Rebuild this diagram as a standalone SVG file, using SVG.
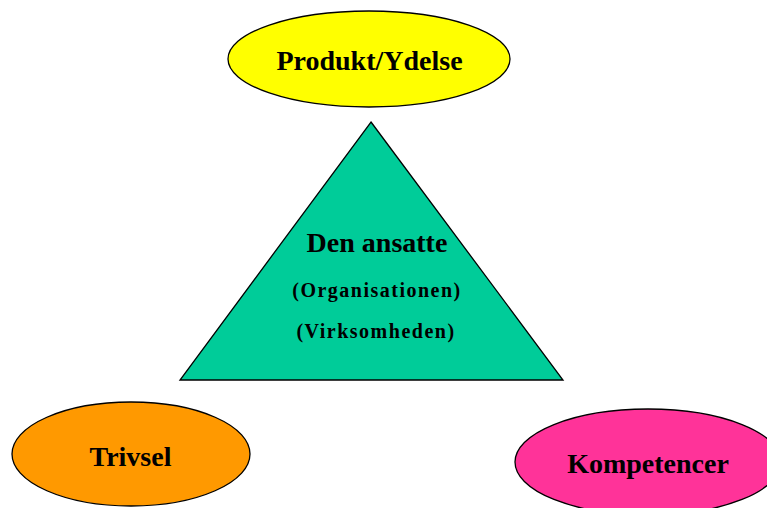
<svg xmlns="http://www.w3.org/2000/svg" width="767" height="508" viewBox="0 0 767 508">
<style>
.shape{stroke:#000;stroke-width:1.3}
.lbl{font-family:"Liberation Serif","Times New Roman",serif;font-weight:bold;fill:#000;text-anchor:middle}
.big{font-size:28px}
.small{font-size:20px;letter-spacing:1.5px}
</style>
<rect width="767" height="508" fill="#fff"/>
<g id="produkt">
<ellipse class="shape" cx="369" cy="59" rx="141" ry="48" fill="#FFFF00"/>
<text class="lbl big" x="369.5" y="70">Produkt/Ydelse</text>
</g>
<g id="ansatte">
<polygon class="shape" points="371,122 563,380 180,380" fill="#00CC99"/>
<text class="lbl big" x="377" y="252">Den ansatte</text>
<text class="lbl small" x="377" y="297">(Organisationen)</text>
<text class="lbl small" x="376" y="338">(Virksomheden)</text>
</g>
<g id="trivsel">
<ellipse class="shape" cx="131" cy="454" rx="119" ry="52" fill="#FF9900"/>
<text class="lbl big" x="130.5" y="466">Trivsel</text>
</g>
<g id="kompetencer">
<ellipse class="shape" cx="648" cy="462" rx="133" ry="53" fill="#FF3399"/>
<text class="lbl big" x="648" y="473">Kompetencer</text>
</g>
<g id="connectors"/>
</svg>
